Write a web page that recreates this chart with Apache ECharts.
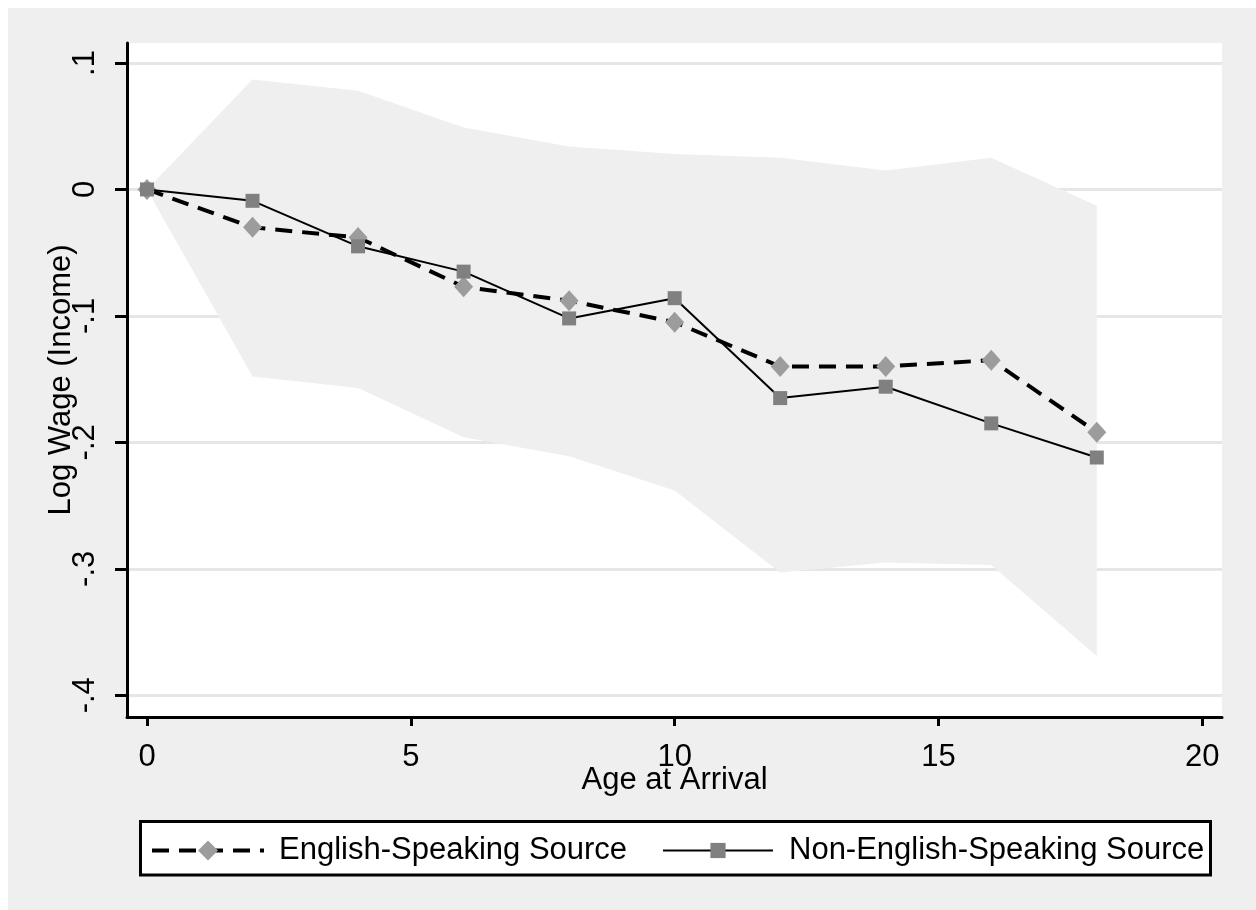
<!DOCTYPE html>
<html>
<head>
<meta charset="utf-8">
<script src="https://cdn.jsdelivr.net/npm/echarts@6/dist/echarts.min.js"></script>
<style>
  html, body { margin: 0; padding: 0; background: #ffffff; }
  #chart { position: absolute; left: 8px; top: 8px; width: 1248px; height: 902px; }
</style>
</head>
<body>
<div id="chart"></div>
<script>
// Age at arrival (years)
const ages = [0, 2, 4, 6, 8, 10, 12, 14, 16, 18];
// Log wage differences relative to arrival at age 0
const englishSource    = [0, -0.030, -0.038, -0.077, -0.088, -0.105, -0.140, -0.140, -0.135, -0.192];
const nonEnglishSource = [0, -0.009, -0.045, -0.065, -0.102, -0.086, -0.165, -0.156, -0.185, -0.212];
// Confidence band
const bandUpper = [0, 0.087, 0.078, 0.049, 0.034, 0.028, 0.025, 0.015, 0.025, -0.013];
const bandLower = [0, -0.148, -0.157, -0.196, -0.211, -0.238, -0.303, -0.295, -0.297, -0.369];
// Axis ticks
const xTicks = [0, 5, 10, 15, 20];
const yTicks = [-0.4, -0.3, -0.2, -0.1, 0, 0.1];
const yTickLabels = ['-.4', '-.3', '-.2', '-.1', '0', '.1'];

const FONT = "'Liberation Sans', Arial, Helvetica, sans-serif";
const pairs = (ys) => ages.map((a, i) => [a, ys[i]]);

const chart = echarts.init(document.getElementById('chart'), null, { renderer: 'canvas' });

// Shaded band: upper edge left to right, then lower edge back, projected through the axes
function renderBand(params, api) {
  const pts = [];
  for (let j = 0; j < ages.length; j++) pts.push(api.coord([ages[j], bandUpper[j]]));
  for (let j = ages.length - 1; j >= 0; j--) pts.push(api.coord([ages[j], bandLower[j]]));
  return {
    type: 'polygon',
    shape: { points: pts },
    style: { fill: '#efefef', stroke: null }
  };
}

chart.setOption({
  animation: false,
  backgroundColor: '#efefef',
  textStyle: { fontFamily: FONT, color: '#000' },
  grid: {
    left: 119, top: 35, right: 34, bottom: 193,
    show: true, backgroundColor: '#ffffff', borderWidth: 0
  },
  xAxis: {
    type: 'value',
    min: -0.379, max: 20.373,
    axisLine: { show: true, onZero: false, lineStyle: { color: '#000', width: 3 } },
    axisTick: { show: true, customValues: xTicks, length: 9, lineStyle: { color: '#000', width: 3 } },
    axisLabel: { customValues: xTicks, fontSize: 31, color: '#000', margin: 25, fontFamily: FONT },
    splitLine: { show: false },
    name: 'Age at Arrival',
    nameLocation: 'middle',
    nameGap: 48,
    nameMoveOverlap: false,
    nameTextStyle: { fontSize: 31, color: '#000', fontFamily: FONT }
  },
  yAxis: {
    type: 'value',
    min: -0.4172, max: 0.1158,
    axisLine: { show: true, onZero: false, lineStyle: { color: '#000', width: 3 } },
    axisTick: { show: true, customValues: yTicks, length: 12, lineStyle: { color: '#000', width: 3 } },
    axisLabel: {
      customValues: yTicks, rotate: 90, fontSize: 31, color: '#000', margin: 26, fontFamily: FONT,
      formatter: (v) => {
        const i = yTicks.findIndex(t => Math.abs(t - v) < 1e-6);
        return i >= 0 ? yTickLabels[i] : '';
      }
    },
    splitLine: { show: true, lineStyle: { color: '#e6e6e6', width: 3 } },
    name: 'Log Wage (Income)',
    nameLocation: 'middle',
    nameRotate: 90,
    nameGap: 50,
    nameMoveOverlap: false,
    nameTextStyle: { fontSize: 31, color: '#000', fontFamily: FONT }
  },
  legend: [
    {
      data: ['English-Speaking Source'],
      left: 142, top: 827, padding: 0,
      itemWidth: 112, itemHeight: 25,
      selectedMode: false, z: 5,
      lineStyle: { width: 4 },
      textStyle: { fontSize: 31, color: '#000', fontFamily: FONT, padding: [0, 0, 0, 10] }
    },
    {
      data: ['Non-English-Speaking Source'],
      left: 654, top: 827, padding: 0,
      itemWidth: 110, itemHeight: 19,
      selectedMode: false, z: 5,
      lineStyle: { width: 2 },
      textStyle: { fontSize: 31, color: '#000', fontFamily: FONT, padding: [0, 0, 0, 11] }
    }
  ],
  graphic: [
    {
      type: 'rect', z: 1, silent: true,
      shape: { x: 132.5, y: 813.5, width: 1070, height: 53.5 },
      style: { fill: '#ffffff', stroke: '#000', lineWidth: 3 }
    }
  ],
  series: [
    {
      name: 'band', type: 'custom',
      data: [[0, 0]], renderItem: renderBand,
      silent: true, z: 1
    },
    {
      name: 'English-Speaking Source', type: 'line',
      data: pairs(englishSource),
      symbol: 'diamond', symbolSize: [19, 21], showAllSymbol: true,
      itemStyle: { color: '#9c9c9c' },
      lineStyle: { color: '#000', width: 4, type: [17, 10] },
      z: 3
    },
    {
      name: 'Non-English-Speaking Source', type: 'line',
      data: pairs(nonEnglishSource),
      symbol: 'rect', symbolSize: 14, showAllSymbol: true,
      itemStyle: { color: '#808080' },
      lineStyle: { color: '#000', width: 2 },
      z: 4
    }
  ]
});
</script>
</body>
</html>
